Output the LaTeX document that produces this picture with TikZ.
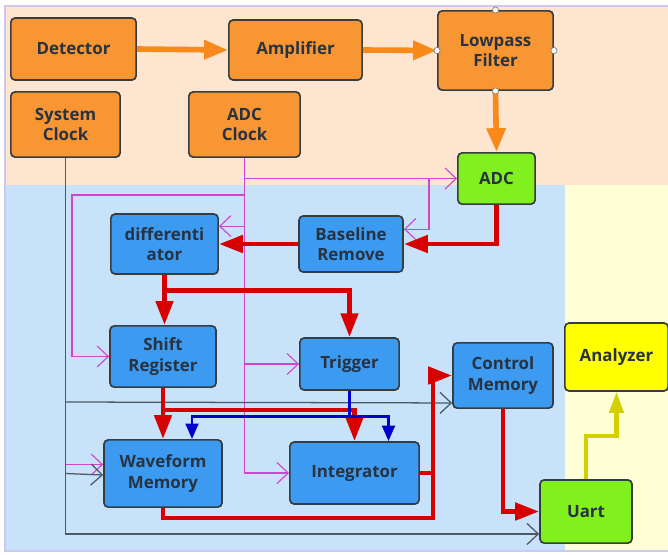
\documentclass[tikz,border=0pt]{standalone}
\usepackage{fontspec}
\setmainfont{Open Sans}
\usetikzlibrary{arrows.meta, calc, backgrounds}

\definecolor{peachbg}{RGB}{253,229,208}
\definecolor{bluebg}{RGB}{200,226,250}
\definecolor{yellowbg}{RGB}{255,255,214}
\definecolor{frameline}{RGB}{205,200,240}
\definecolor{boxorange}{RGB}{247,150,50}
\definecolor{boxblue}{RGB}{60,155,240}
\definecolor{boxgreen}{RGB}{128,240,30}
\definecolor{boxyellow}{RGB}{255,255,0}
\definecolor{boxline}{RGB}{55,60,65}
\definecolor{boxtext}{RGB}{40,50,65}
\definecolor{flowred}{RGB}{215,0,0}
\definecolor{floworange}{RGB}{248,138,28}
\definecolor{flowblue}{RGB}{0,0,205}
\definecolor{flowolive}{RGB}{212,208,0}
\definecolor{clkpink}{RGB}{205,70,205}
\definecolor{clkgray}{RGB}{75,90,100}

\tikzstyle{block} = [rectangle, rounded corners=3pt, draw=boxline, line width=1.2pt, text=boxtext, align=center, font=\fontsize{12}{14.5}\selectfont\bfseries]
\tikzstyle{orangebox} = [block, fill=boxorange]
\tikzstyle{bluebox} = [block, fill=boxblue]
\tikzstyle{greenbox} = [block, fill=boxgreen]
\tikzstyle{yellowbox} = [block, fill=boxyellow]
\tikzstyle{analogarrow} = [line width=4pt, floworange, -{Triangle[length=17pt,width=13pt]}]
\tikzstyle{dataarrow} = [line width=3.5pt, flowred, -{Triangle[length=17pt,width=12pt]}]
\tikzstyle{trigarrow} = [line width=2pt, flowblue, -{Triangle[length=11pt,width=9pt]}]
\tikzstyle{uartarrow} = [line width=3pt, flowolive, -{Triangle[length=15pt,width=10pt]}]
\tikzstyle{adcclkline} = [line width=0.8pt, clkpink, -{Straight Barb[length=8pt,width=15pt]}]
\tikzstyle{sysclkline} = [line width=0.9pt, clkgray, -{Straight Barb[length=8pt,width=15pt]}]

\begin{document}
\begin{tikzpicture}[x=0.025cm, y=-0.025cm]
\useasboundingbox (0,0) rectangle (668,554);

  % background areas
  \fill[white] (0,0) rectangle (668,554);
  \fill[peachbg] (6,7) rectangle (668,185);
  \fill[bluebg] (6,185) rectangle (565,550);
  \fill[yellowbg] (565,185) rectangle (668,550);
  \draw[frameline, line width=1.5pt] (5,6) rectangle (672,551);

  % front end
  \node[orangebox, minimum width=3.13cm, minimum height=1.55cm] (detector) at (73.5,49) {Detector};
  \node[orangebox, minimum width=3.33cm, minimum height=1.5cm] (amplifier) at (295.5,50) {Amplifier};
  \node[orangebox, minimum width=2.88cm, minimum height=1.98cm] (lowpass) at (495.5,50.5) {Lowpass\\Filter};
  \node[orangebox, minimum width=2.73cm, minimum height=1.63cm] (sysclk) at (65.5,124.5) {System\\Clock};
  \node[orangebox, minimum width=2.78cm, minimum height=1.63cm] (adcclk) at (244.5,124.5) {ADC\\Clock};
  \node[greenbox, minimum width=1.93cm, minimum height=1.28cm] (adc) at (496.5,178.5) {ADC};

  % processing
  \node[bluebox, minimum width=2.68cm, minimum height=1.5cm] (diff) at (164.5,244) {differenti\\ator};
  \node[bluebox, minimum width=2.6cm, minimum height=1.4cm] (baseline) at (351,244) {Baseline\\Remove};
  \node[bluebox, minimum width=2.65cm, minimum height=1.53cm] (shiftreg) at (163,356.5) {Shift\\Register};
  \node[bluebox, minimum width=2.48cm, minimum height=1.3cm] (trigger) at (349.5,364) {Trigger};
  \node[bluebox, minimum width=2.5cm, minimum height=1.63cm] (ctrlmem) at (503,375.5) {Control\\Memory};
  \node[bluebox, minimum width=2.95cm, minimum height=1.68cm] (wavemem) at (163,473.5) {Waveform\\Memory};
  \node[bluebox, minimum width=3.23cm, minimum height=1.55cm] (integrator) at (354.5,473) {Integrator};
  \node[greenbox, minimum width=2.3cm, minimum height=1.58cm] (uart) at (586,511.5) {Uart};
  \node[yellowbox, minimum width=2.58cm, minimum height=1.7cm] (analyzer) at (616.5,357) {Analyzer};

  % analog chain
  \draw[analogarrow] (detector.east) -- (amplifier.west);
  \draw[analogarrow] (amplifier.east) -- (lowpass.west);
  \draw[analogarrow] (lowpass.south) -- (adc.north);

  % clocks
  \coordinate (clkbus) at (72,195);
  \coordinate (adctap) at ($(adc.west)+(-28,0)$);
  \draw[adcclkline] (adcclk.south) |- (adc.west);
  \draw[adcclkline] (adcclk.south) |- (integrator.west);
  \draw[adcclkline] (adctap) |- ($(baseline.north east)+(0,14)$);
  \draw[adcclkline] ($(adcclk.south |- diff.north east)+(0,13)$) -- ($(diff.north east)+(0,13)$);
  \draw[adcclkline] (adcclk.south |- clkbus) -- (clkbus) |- (shiftreg.west);
  \draw[adcclkline] (adcclk.south |- trigger.west) -- (trigger.west);
  \draw[adcclkline] ($(wavemem.west)+(-37,-9)$) -- ($(wavemem.west)+(0,-9)$);
  \draw[sysclkline] (sysclk.south) |- ($(uart.south west)+(0,-10)$);
  \draw[sysclkline] (sysclk.south |- 0,402) -- ($(ctrlmem.south west)+(0,-6)$);
  \draw[sysclkline] (sysclk.south |- wavemem.west) -- ($(wavemem.west)+(0,1.5)$);

  % digital data path
  \coordinate (redbus) at ($(integrator.east)+(13,0)$);
  \draw[dataarrow] (adc.south) |- (baseline.east);
  \draw[dataarrow] (baseline.west) -- (diff.east);
  \draw[dataarrow] (diff.south) -- (diff.south |- shiftreg.north);
  \draw[dataarrow] ($(diff.south)+(0,16)$) -| (trigger.north);
  \draw[dataarrow] (shiftreg.south) -- (shiftreg.south |- wavemem.north);
  \draw[dataarrow] ($(shiftreg.south)+(0,22)$) -| (integrator.north);
  \draw[trigarrow] (trigger.south) -- ++(0,26) coordinate (trigjoin) -| ($(wavemem.north)+(29,0)$);
  \draw[trigarrow] (trigjoin) -| ($(integrator.north)+(34,0)$);
  \draw[dataarrow] (integrator.east) -- (redbus) |- (ctrlmem.west);
  \draw[line width=3.5pt, flowred] (wavemem.south) -- ++(0,10) -| (redbus);
  \draw[dataarrow] (ctrlmem.south) |- (uart.west);
  \draw[uartarrow] (uart.north) -- ++(0,-43) -| (analyzer.south);

  % handles on the filter
  \foreach \side in {north, south, east, west}
    \draw[fill=white, draw=gray, line width=0.5pt] (lowpass.\side) circle (2.2pt);

\end{tikzpicture}
\end{document}
